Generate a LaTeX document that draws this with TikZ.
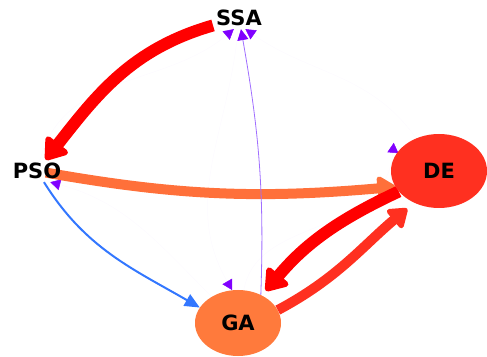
\documentclass[tikz,border=0pt]{standalone}
\usepackage{fontspec}
\setmainfont{DejaVu Sans}
\usetikzlibrary{arrows.meta,shapes.geometric}
\definecolor{hotred}{RGB}{255,0,0}
\definecolor{dered}{RGB}{255,48,32}
\definecolor{gaorg}{RGB}{255,122,60}
\definecolor{psoorg}{RGB}{255,112,58}
\definecolor{psoblue}{RGB}{51,119,255}
\definecolor{ssalil}{RGB}{160,110,255}
\definecolor{tipvio}{RGB}{128,0,255}
\pgfdeclarelayer{edges}
\pgfsetlayers{edges,main}

\begin{document}
\begin{tikzpicture}[x=1pt, y=1pt,
    lbl/.style={font=\bfseries\fontsize{21}{24}\selectfont, inner sep=3pt},
    blob/.style={ellipse, inner sep=0pt, lbl},
    heavy/.style={line width=12pt, -{Triangle[length=23pt,width=31pt,round]}},
    wide/.style={line width=10pt, -{Triangle[length=20pt,width=27pt,round]}},
    hair/.style={line width=2pt, -{Triangle[length=15pt,width=13pt]}},
    faint/.style={draw=tipvio!2, line width=0.5pt, -{Triangle[length=10pt,width=11pt,color=tipvio]}},
  ]
  \useasboundingbox (0,0) rectangle (487,356);

  % --- the four nodes
  \node[lbl] (ssa) at (239,338) {SSA};
  \node[lbl] (pso) at (37,185) {PSO};
  \node[blob, fill=dered, minimum width=96pt, minimum height=74pt] (de) at (439,185) {DE};
  \node[blob, fill=gaorg, minimum width=86pt, minimum height=66pt] (ga) at (238,33) {GA};

  \begin{pgfonlayer}{edges}
    % --- nearly invisible links, only their tips show
    \draw[faint] (pso) to[out=75, in=220] (ssa.-115);
    \draw[faint] (de) to[out=125, in=-35] (ssa.-60);
    \draw[faint] (ga) to[out=135, in=-15] (pso.-40);
    \draw[faint] (ssa) to[out=-95, in=120] (ga.100);
    \draw[faint, shorten >=-20pt] (ga) to[out=80, in=-95] (de.170);

    % --- visible links
    \draw[heavy, hotred] (ssa) to[out=196, in=52] (pso);
    \draw[wide, psoorg, shorten <=9pt] (pso.center) to[out=-10, in=185] (de.200);
    \draw[hair, psoblue] (pso) to[out=-58, in=150] (ga.158);
    \draw[ssalil, line width=0.8pt, -{Triangle[length=11pt,width=11pt,color=tipvio]}]
      (ga.51) to[out=88, in=280] (ssa.-80);
    \draw[heavy, hotred, shorten >=6pt] (de.207) to[out=205, in=50] (ga.49);
    \draw[wide, dered, shorten >=9pt] (ga.18) to[out=28, in=220] (de.232);
  \end{pgfonlayer}

\end{tikzpicture}
\end{document}
